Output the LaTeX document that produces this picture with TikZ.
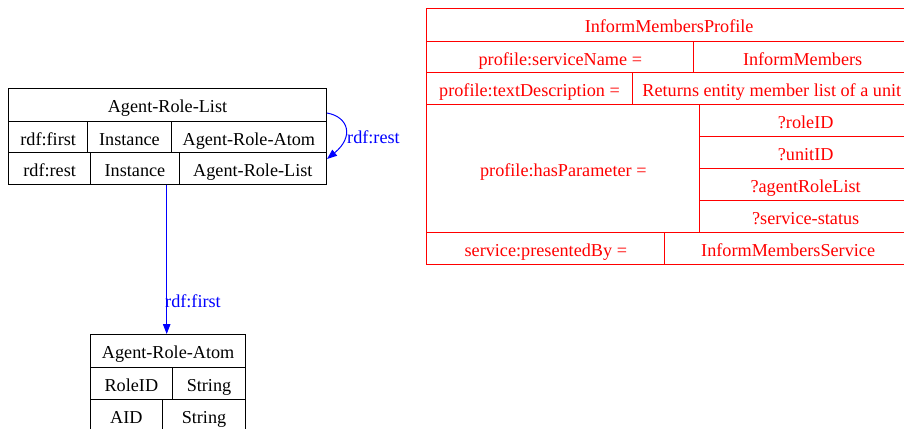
\documentclass[tikz,border=0pt]{standalone}
\usepackage{fontspec}
\setmainfont{Liberation Serif}
\usetikzlibrary{arrows.meta}
\definecolor{gvblue}{RGB}{0,0,255}
\definecolor{gvred}{RGB}{255,0,0}
\tikzset{
  cell/.style={draw, line width=1pt, inner sep=0pt, anchor=north west, text height=16pt, text depth=0pt, font=\fontsize{18.2}{20}\selectfont},
  redcell/.style={cell, draw=gvred, text=gvred},
  edge/.style={color=gvblue, line width=1pt, -{Triangle[length=10pt,width=7.5pt]}},
  elabel/.style={text=gvblue, inner sep=0pt, anchor=base west, font=\fontsize{18.2}{20}\selectfont},
}
\newcommand{\cellat}[7][cell]{% style, name, x1, y1, x2, y2, text
  \node[#1, minimum width={(#5)-(#3)}, minimum height={(#6)-(#4)}] (#2) at (#3,#4) {#7};}
\begin{document}
\begin{tikzpicture}[x=1pt,y=-1pt]
\clip (0,0) rectangle (904,428);
\fill[white] (0,0) rectangle (904,428);
% Agent-Role-List
\node[inner sep=0pt, minimum width=317pt, minimum height=96.3pt, anchor=north west] (arl) at (8,88) {};
\cellat{arlh}{8}{88}{326}{120.7}{Agent-Role-List}
\cellat{arla}{8}{120.7}{87.3}{152.3}{rdf:first}
\cellat{arlb}{87.3}{120.7}{170.7}{152.3}{Instance}
\cellat{arlc}{170.7}{120.7}{326}{152.3}{Agent-Role-Atom}
\cellat{arld}{8}{152.3}{90.3}{184.3}{rdf:rest}
\cellat{arle}{90.3}{152.3}{178.7}{184.3}{Instance}
\cellat{arlf}{178.7}{152.3}{326}{184.3}{Agent-Role-List}
% Agent-Role-Atom
\cellat{atomh}{90}{334}{245.3}{366.7}{Agent-Role-Atom}
\cellat{atoma}{90}{366.7}{171.7}{398.7}{RoleID}
\cellat{atomb}{171.7}{366.7}{245.3}{398.7}{String}
\cellat{atomc}{90}{398.7}{161.7}{430.7}{AID}
\cellat{atomd}{161.7}{398.7}{245.3}{430.7}{String}
% InformMembersProfile
\cellat[redcell]{imh}{426.3}{8.3}{911}{40.7}{InformMembersProfile}
\cellat[redcell]{ima}{426.3}{40.7}{693.3}{72.3}{profile:serviceName =}
\cellat[redcell]{imb}{693.3}{40.7}{911}{72.3}{InformMembers}
\cellat[redcell]{imc}{426.3}{72.3}{631.7}{104.3}{profile:textDescription =}
\cellat[redcell]{imd}{631.7}{72.3}{911}{104.3}{Returns entity member list of a unit}
\cellat[redcell]{ime}{426.3}{104.3}{699.3}{232}{profile:hasParameter =}
\cellat[redcell]{imp1}{699.3}{104.3}{911}{136}{?roleID}
\cellat[redcell]{imp2}{699.3}{136}{911}{168.3}{?unitID}
\cellat[redcell]{imp3}{699.3}{168.3}{911}{200}{?agentRoleList}
\cellat[redcell]{imp4}{699.3}{200}{911}{232}{?service-status}
\cellat[redcell]{imf}{426.3}{232}{664.3}{264}{service:presentedBy =}
\cellat[redcell]{img}{664.3}{232}{911}{264}{InformMembersService}
% edges
\draw[edge] (arl.south) -- (arl.south |- atomh.north);
\node[elabel] (firstlbl) at (165,307) {rdf:first};
\draw[edge] ([yshift=-25pt]arlh.north east) .. controls +(22,4) and +(27,-22) .. ([yshift=-71pt]arlh.north east);
\node[elabel] (restlbl) at (347,143) {rdf:rest};
\end{tikzpicture}
\end{document}
